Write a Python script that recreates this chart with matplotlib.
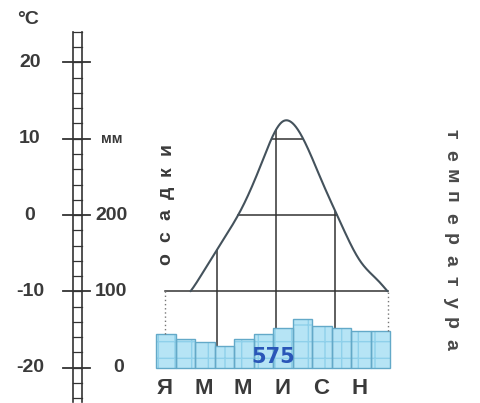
import numpy as np
import matplotlib
matplotlib.use("Agg")
import matplotlib.pyplot as plt

# ---------------- data ----------------
months = ["Я", "Ф", "М", "А", "М", "И", "И", "А", "С", "О", "Н", "Д"]
month_labels_shown = ["Я", "М", "М", "И", "С", "Н"]          # every second month
temperature = [-11.4, -10.9, -7.3, -3.2, 1.2, 7.1, 12.2, 10.4, 4.7, -1.0, -6.0, -8.8]   # °C
precip = [44, 38, 33, 28, 37, 44, 52, 64, 54, 52, 48, 48]   # mm
precip_total = "575"
temp_ticks = [20, 10, 0, -10, -20]
precip_ticks = [200, 100, 0]
temp_levels = [-10, 0, 10]
marker_months = [2.67, 5.69, 8.72]

# ---------------- layout helpers (pixel -> data) ----------------
W, H = 481, 403
X0, XS = 165.0, 19.5          # x pixel of January, px per month
Y0, YS = 215.0, 7.625         # y pixel of 0 °C, px per °C

def mx(px):
    return (px - X0) / XS

def ty(py):
    return (Y0 - py) / YS

def p2t(mm):               # precipitation (mm) -> temperature axis units
    return mm / 10.0 - 20.0

fig = plt.figure(figsize=(W / 100, H / 100), dpi=100)
ax = fig.add_axes([0, 0, 1, 1])
ax.set_xlim(mx(0), mx(W))
ax.set_ylim(ty(H), ty(0))
ax.axis("off")

dark = "#333333"
txt = "#3a3a3a"
font = "Liberation Sans"

# ---------------- ladder scale ----------------
lx0, lx1 = mx(73), mx(82)
ax.plot([lx0, lx0], [-24.5, 24], color=dark, lw=1.2, zorder=3)
ax.plot([lx1, lx1], [-24.5, 24], color=dark, lw=1.2, zorder=3)
for t in np.arange(-24, 25, 2):
    ax.plot([lx0, lx1], [t, t], color=dark, lw=0.9, zorder=3)
for t in temp_ticks:
    ax.plot([mx(63), mx(90)], [t, t], color=dark, lw=1.3, zorder=3)
    ax.text(mx(30), t, str(t), ha="center", va="center", fontsize=14,
            color=txt, family=font, weight="bold")
for p in precip_ticks:
    ax.text(mx(111) if p else mx(119), p2t(p), str(p), ha="center", va="center",
            fontsize=14, color=txt, family=font, weight="bold")
ax.text(mx(28), ty(20), "°C", ha="center", va="center", fontsize=14,
        color=txt, family=font, weight="bold")
ax.text(mx(112), 10, "мм", ha="center", va="center", fontsize=10.5,
        color=txt, family=font, weight="bold")

# ---------------- precipitation bars ----------------
m = np.arange(12)
heights = np.array(precip) / 10.0
ax.bar(m + 0.05, heights, width=1.0, bottom=-20, color="#b6e4f5",
       edgecolor="#8fd0ea", linewidth=0, hatch="+", zorder=4)
ax.bar(m + 0.05, heights, width=1.0, bottom=-20, facecolor="none",
       edgecolor="#63a9c8", linewidth=1.0, zorder=5)
ax.text(mx(273), ty(357), precip_total, ha="center", va="center",
        fontsize=15, weight="bold", color="#2a56b8", family="DejaVu Sans",
        zorder=6)

# ---------------- temperature curve (periodic cubic spline) ----------------
y = np.array(temperature)
n = len(y)
A = np.zeros((n, n))
rhs = np.zeros(n)
for i in range(n):
    A[i, i] = 4
    A[i, (i - 1) % n] = 1
    A[i, (i + 1) % n] = 1
    rhs[i] = 6 * (y[(i + 1) % n] - 2 * y[i] + y[(i - 1) % n])
M = np.linalg.solve(A, rhs)

def spline(x):
    x = np.asarray(x, dtype=float)
    i = np.floor(x).astype(int) % n
    j = (i + 1) % n
    t = x - np.floor(x)
    return ((1 - t) * y[i] + t * y[j]
            + ((1 - t) ** 3 - (1 - t)) * M[i] / 6 + (t ** 3 - t) * M[j] / 6)

xs = np.linspace(0, 12, 2401)
ts = spline(xs)
lowest = temp_levels[0]
visible = np.where(ts >= lowest, ts, np.nan)
ax.plot(xs, visible, color="#44525c", lw=1.5, zorder=7, solid_capstyle="round")

def crossings(level):
    s = ts - level
    idx = np.where(np.sign(s[:-1]) != np.sign(s[1:]))[0]
    return [xs[k] - s[k] * (xs[k + 1] - xs[k]) / (s[k + 1] - s[k]) for k in idx]

# horizontal level lines
for lev in temp_levels:
    c = crossings(lev)
    if lev == lowest:
        left, right = 0.0, c[-1]
    else:
        left, right = c[0], c[-1]
    ax.plot([left, right], [lev, lev], color=dark, lw=1.1, zorder=6)

# dotted lines from bars to the lowest level
right_end = crossings(lowest)[-1]
ax.plot([0, 0], [p2t(precip[0]), lowest], color="#777777", lw=1.0,
        ls=(0, (1, 2)), zorder=6)
ax.plot([right_end, right_end], [p2t(precip[-1]), lowest], color="#777777",
        lw=1.0, ls=(0, (1, 2)), zorder=6)

# vertical marker lines
for mm_ in marker_months:
    ax.plot([mm_, mm_], [-20, float(spline(mm_))], color=dark, lw=1.1, zorder=3)

# ---------------- month labels ----------------
for k, lab in enumerate(month_labels_shown):
    ax.text(2 * k, ty(389), lab, ha="center", va="center", fontsize=16,
            color=txt, family=font, weight="bold")

# ---------------- vertical titles ----------------
word1 = "осадки"
for k, ch in enumerate(word1):
    ax.text(mx(166), ty(259 - 22 * k), ch, rotation=90, ha="center",
            va="center", fontsize=14, weight="bold", color=txt, family=font)
word2 = "температура"
for k, ch in enumerate(word2):
    ax.text(mx(451), ty(134 + 21 * k), ch, rotation=270, ha="center",
            va="center", fontsize=14, weight="bold", color="#4a4a4a", family=font)

fig.savefig("out.png", dpi=100)
